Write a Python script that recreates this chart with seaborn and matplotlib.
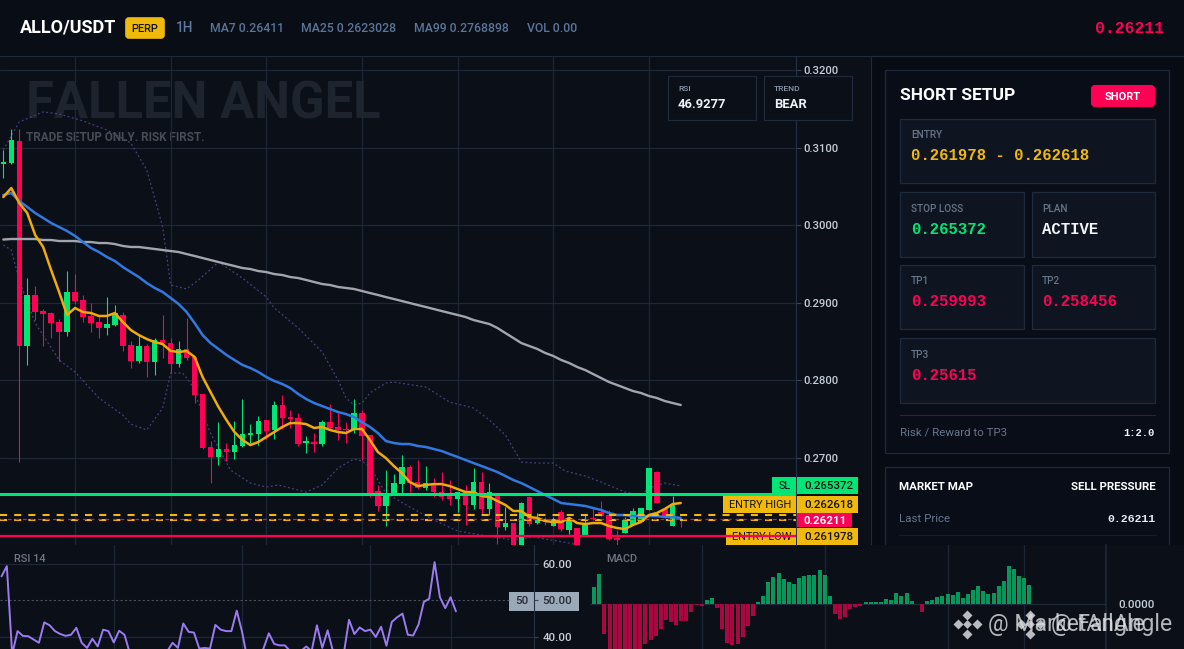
#!/usr/bin/env python3
import pandas as pd
import matplotlib
matplotlib.use("Agg")
import matplotlib.pyplot as plt
from matplotlib.patches import Rectangle, FancyBboxPatch
from matplotlib.transforms import blended_transform_factory
import seaborn as sns

# ---------------- DATA ----------------
opens = [.30788,.30801,.31085,.28443,.29101,.28894,.28868,.28752,.28623,.29139,
         .29036,.28830,.28752,.28675,.28713,.28843,.28456,.28250,.28443,.28237,
         .28520,.28481,.28211,.28405,.28302,.27825,.27142,.27013,.27116,.27077,
         .27155,.27296,.27309,.27489,.27361,.27683,.27528,.27515,.27193,.27206,
         .27180,.27463,.27400,.27374,.27374,.27579,.27296,.26574,.26382,.26536,
         .26664,.26884,.26690,.26613,.26664,.26561,.26510,.26472,.26561,.26395,
         .26690,.26343,.26536,.26111,.26162,.25840,.26497,.26162,.26214,.26124,
         .26304,.26072,.26098,.25995,.26227,.26304,.26265,.25969,.26033,.26137,
         .26175,.26330,.26819,.26343,.26124,.26214]
highs = [.30969,.31240,.31240,.29319,.29217,.28920,.28881,.28791,.29409,.29370,
         .29101,.28997,.28830,.29074,.28971,.28881,.28507,.28585,.28468,.28546,
         .28843,.28546,.28507,.28804,.28302,.27825,.27219,.27463,.27193,.27476,
         .27760,.27437,.27541,.27489,.27734,.27812,.27618,.27579,.27284,.27322,
         .27489,.27695,.27579,.27463,.27760,.27618,.27296,.26652,.26845,.26793,
         .27039,.26910,.26974,.26897,.26742,.26819,.26716,.26561,.26652,.26871,
         .26819,.26677,.26548,.26369,.26162,.26433,.26510,.26291,.26240,.26240,
         .26330,.26240,.26098,.26265,.26356,.26446,.26330,.26072,.26240,.26356,
         .26356,.26871,.26832,.26343,.26510,.26214]
lows = [.30608,.30788,.26948,.28199,.28778,.28443,.28546,.28250,.28572,.28984,
        .28752,.28623,.28546,.28585,.28701,.28379,.28160,.28224,.28044,.28070,
        .28289,.28095,.28173,.28263,.27708,.27116,.26677,.26910,.26961,.26987,
        .27142,.27193,.27167,.27245,.27245,.27374,.27387,.27155,.27064,.27077,
        .27155,.27361,.27232,.27193,.27322,.26974,.26497,.26317,.26124,.26523,
        .26548,.26561,.26600,.26587,.26497,.26459,.26395,.26304,.26137,.26343,
        .26265,.26265,.25891,.26072,.25840,.25840,.26124,.26149,.26137,.26124,
        .26059,.26020,.25840,.25995,.26201,.26252,.25943,.25879,.26033,.26137,
        .26175,.26330,.26420,.26227,.26124,.26111]
closes = [.30814,.31098,.28443,.29101,.28881,.28855,.28739,.28623,.29139,.29023,
          .28817,.28739,.28675,.28726,.28868,.28443,.28250,.28443,.28237,.28520,
          .28481,.28211,.28405,.28289,.27812,.27129,.27013,.27116,.27077,.27167,
          .27309,.27322,.27476,.27348,.27683,.27515,.27502,.27180,.27219,.27180,
          .27463,.27387,.27361,.27361,.27579,.27284,.26548,.26382,.26536,.26677,
          .26884,.26677,.26613,.26677,.26561,.26497,.26472,.26561,.26395,.26690,
          .26343,.26561,.26111,.26162,.25840,.26420,.26149,.26214,.26175,.26214,
          .26085,.26214,.25840,.26149,.26214,.26252,.25956,.25943,.26201,.26317,
          .26356,.26871,.26420,.26227,.26395,.26201]

ma7 = [.30363,.30479,.30286,.30157,.29874,.29719,.29422,.29139,.28843,.28933,
       .28881,.28868,.28830,.28830,.28868,.28752,.28649,.28585,.28533,.28494,
       .28468,.28379,.28366,.28379,.28302,.28044,.27850,.27657,.27489,.27335,
       .27232,.27167,.27206,.27271,.27335,.27400,.27450,.27450,.27437,.27387,
       .27400,.27361,.27335,.27322,.27374,.27374,.27232,.27077,.27000,.26897,
       .26806,.26690,.26639,.26652,.26664,.26664,.26639,.26600,.26561,.26561,
       .26510,.26497,.26446,.26395,.26317,.26317,.26240,.26227,.26188,.26175,
       .26175,.26227,.26162,.26149,.26162,.26162,.26124,.26098,.26085,.26137,
       .26175,.26265,.26291,.26343,.26407,.26420]
ma25 = [.30389,.30414,.30312,.30235,.30157,.30093,.30028,.29977,.29925,.29861,
        .29783,.29706,.29654,.29590,.29538,.29461,.29396,.29332,.29255,.29191,
        .29139,.29062,.28984,.28881,.28739,.28585,.28481,.28405,.28328,.28263,
        .28199,.28160,.28108,.28044,.27992,.27954,.27902,.27825,.27760,.27708,
        .27670,.27631,.27592,.27566,.27528,.27463,.27400,.27322,.27219,.27193,
        .27180,.27180,.27155,.27142,.27116,.27090,.27051,.27013,.26974,.26935,
        .26897,.26858,.26819,.26768,.26716,.26677,.26626,.26574,.26523,.26472,
        .26420,.26407,.26395,.26382,.26356,.26330,.26291,.26265,.26265,.26252,
        .26252,.26252,.26252,.26240,.26240,.26227]
ma99 = [.29815,.29822,.29822,.29822,.29822,.29809,.29809,.29796,.29796,.29796,
        .29783,.29783,.29770,.29770,.29757,.29732,.29719,.29719,.29706,.29693,
        .29680,.29667,.29654,.29628,.29603,.29577,.29551,.29525,.29499,.29474,
        .29448,.29435,.29409,.29396,.29370,.29358,.29332,.29319,.29294,.29268,
        .29242,.29229,.29204,.29191,.29178,.29152,.29126,.29101,.29074,.29049,
        .29023,.28997,.28971,.28946,.28920,.28894,.28868,.28843,.28817,.28778,
        .28752,.28726,.28675,.28610,.28546,.28481,.28443,.28405,.28353,.28315,
        .28263,.28224,.28173,.28134,.28082,.28031,.27979,.27941,.27902,.27863,
        .27838,.27799,.27773,.27734,.27708,.27683]

bb_up_idx = [0,2,5,7,10,13,16,18,20,21,22,23,24.5,27,30,33,34,37,40,42,43,44,45,46,48,49,
             53,56,59,61,63,65,67,69,70.5,73,75,78,80,81,83,85]
bb_up = [.30969,.31330,.31459,.31433,.31343,.31227,.31059,.30711,.29977,.29229,.29204,.29178,
         .29294,.29525,.29319,.29074,.28933,.28675,.28366,.28005,.27773,.27683,.27708,.27838,
         .27966,.27979,.27915,.27721,.27644,.27489,.27296,.26948,.26935,.26935,.26832,.26768,
         .26690,.26561,.26523,.26613,.26677,.26639]
bb_lo_idx = [0,1,2,4,7,9,12,15,16,18,20,21,22.5,23.5,24.7,26,28.5,31,33,34.5,38,40,42,44,45,46,
             48,51,54,57,60,64,66.5,71,75]
bb_lo = [.29745,.29680,.29294,.28739,.28263,.28108,.27773,.27553,.27437,.27361,.27644,.28095,
         .28095,.27966,.27657,.27322,.26845,.26677,.26626,.26652,.26561,.26652,.26871,.26987,
         .26961,.26884,.26548,.26369,.26201,.26059,.26007,.25943,.25982,.25904,.25814]

rsi = [56.6,59.4,35.2,41.6,40.3,40.2,39.3,38.4,44.0,43.2,41.6,40.8,40.3,40.6,42.5,38.4,37.0,39.5,
       37.4,42.0,41.6,38.5,41.7,40.6,35.6,32.4,31.5,29.7,30.6,33.3,34.7,36.1,38.4,37.0,43.7,41.4,
       41.2,36.8,37.0,36.8,43.3,42.0,41.6,41.6,47.2,41.4,33.8,32.4,34.7,36.8,41.0,38.1,37.7,37.7,
       36.1,34.2,36.1,37.4,36.1,43.2,37.0,41.8,36.1,30.6,35.2,44.7,40.8,42.6,41.6,42.0,40.0,42.8,
       37.6,44.1,45.4,46.4,40.6,40.4,43.4,49.6,50.5,60.5,50.9,47.9,50.9,47.0]

# MACD histogram, in units of 1e-5
macd_hist = [52,91,-89,-150,-170,-170,-170,-170,-170,-145,-119,-107,-94,-74,-47,-53,-61,-50,-50,-23,
             -1,-4,13,19,-11,-74,-116,-122,-119,-97,-65,-35,8,26,67,82,94,77,67,61,79,85,88,88,103,88,
             25,-29,-44,-38,-14,-8,-4,7,7,7,7,16,13,34,25,34,10,1,-23,10,13,22,25,31,28,37,19,31,43,55,
             40,31,34,55,70,115,106,85,79,58]

price_ticks = [0.32, 0.31, 0.30, 0.29, 0.28, 0.27]
price_labels = ["0.3200", "0.3100", "0.3000", "0.2900", "0.2800", "0.2700"]
rsi_ticks = [60, 50, 40]
rsi_labels = ["60.00", "50.00", "40.00"]
price_grid_idx = [9, 21, 33, 45, 57, 69, 81]
lower_grid_idx = [21, 45, 69, 84]

stop_loss = 0.265372
entry_high = 0.262618
entry_low = 0.261978
last_price = 0.26211
tp1 = 0.259993

# ---------------- STYLE ----------------
W, H = 1184, 649
BG = "#0a0f18"
PANEL = "#070b14"
CARD = "#0f1520"
BORDER = "#1f2a3d"
GRID = "#1e2735"
GREEN = "#00e676"
RED = "#ff0055"
AMBER = "#f0b90b"
MONO = "Liberation Mono"

sns.set_theme(style="dark", rc={"axes.facecolor": BG, "figure.facecolor": BG, "axes.edgecolor": BORDER})
plt.rcParams["font.family"] = ["Roboto", "DejaVu Sans"]


def px_rect(x0, y0, x1, y1):
    """figure fraction rect from top-left pixel box"""
    return [x0 / W, 1 - y1 / H, (x1 - x0) / W, (y1 - y0) / H]


def fpx(size):
    return size * 0.72


fig = plt.figure(figsize=(W / 100, H / 100), dpi=100)

# background layer, pixel coords
ui = fig.add_axes([0, 0, 1, 1], zorder=0)
ui.set_xlim(0, W)
ui.set_ylim(H, 0)
ui.axis("off")

# top layer for boxes that sit over the chart
top = fig.add_axes([0, 0, 1, 1], zorder=10)
top.set_xlim(0, W)
top.set_ylim(H, 0)
top.axis("off")
top.patch.set_alpha(0)


def card(a, x0, y0, x1, y1, fc=CARD, ec=BORDER, z=2):
    a.add_patch(Rectangle((x0, y0), x1 - x0, y1 - y0, fc=fc, ec=ec, lw=0.9, zorder=z))


def label(a, x, y, s, size=11, color="white", weight="normal", ha="left", family=None, z=6):
    kw = {"family": family} if family else {}
    a.text(x, y, s, fontsize=fpx(size), color=color, fontweight=weight, ha=ha, va="center", zorder=z, **kw)


# ---------------- HEADER ----------------
ui.add_patch(Rectangle((0, 0), W, 55.5, fc="#090d16", ec="none", zorder=1))
ui.plot([0, W], [55.5, 55.5], color=BORDER, lw=0.8, zorder=2)
label(ui, 20, 27.5, "ALLO/USDT", 18, "white", "bold")
ui.add_patch(FancyBboxPatch((126, 18), 38, 20, boxstyle="round,pad=0,rounding_size=3", fc=AMBER, ec=AMBER, lw=1.2, zorder=3))
label(ui, 145, 28.5, "PERP", 11, "#111111", "medium", ha="center")
label(ui, 176, 28, "1H", 13.5, "#5f7a9c", "medium")
label(ui, 210, 28.5, "MA7 0.26411", 12.2, "#5a7599", "medium")
label(ui, 301, 28.5, "MA25 0.2623028", 12.2, "#5a7599", "medium")
label(ui, 414, 28.5, "MA99 0.2768898", 12.2, "#5a7599", "medium")
label(ui, 527, 28.5, "VOL 0.00", 12.2, "#5a7599", "medium")
label(ui, 1164, 28.5, "0.26211", 16.5, RED, "bold", ha="right", family=MONO)

# ---------------- WATERMARK ----------------
label(ui, 26, 104.5, "FALLEN ANGEL", 50.7, "#1e242e", "bold", z=1)
label(ui, 26, 137.5, "TRADE SETUP ONLY. RISK FIRST.", 11.8, "#474c56", "bold", z=1)

# ---------------- RIGHT PANEL ----------------
ui.add_patch(Rectangle((870.5, 56), W - 870, 500, fc=PANEL, ec=BORDER, lw=0.8, zorder=1))
card(ui, 885, 70, 1169, 453, fc="#080d18")
label(ui, 900, 96, "SHORT SETUP", 17.4, "white", "bold")
ui.add_patch(FancyBboxPatch((1092, 86), 62, 20, boxstyle="round,pad=0,rounding_size=3", fc=RED, ec=RED, lw=1.5, zorder=3))
label(ui, 1122.5, 96.5, "SHORT", 11, "white", "bold", ha="center")

card(ui, 900, 119, 1155, 183)
label(ui, 911, 135.5, "ENTRY", 10, "#67758a", "medium")
label(ui, 911, 156, "0.261978 - 0.262618", 15.6, AMBER, "bold", family=MONO)

card(ui, 900, 192, 1024, 257)
label(ui, 911, 208.5, "STOP LOSS", 10, "#67758a", "medium")
label(ui, 911, 229, "0.265372", 15.6, GREEN, "bold", family=MONO)
card(ui, 1032, 192, 1155, 257)
label(ui, 1042, 208.5, "PLAN", 10, "#67758a", "medium")
label(ui, 1042, 229, "ACTIVE", 15.6, "#f2f5f9", "bold", family=MONO)

card(ui, 900, 265, 1024, 329)
label(ui, 911, 281.5, "TP1", 10, "#67758a", "medium")
label(ui, 911, 302, "0.259993", 15.6, RED, "bold", family=MONO)
card(ui, 1032, 265, 1155, 329)
label(ui, 1042, 281.5, "TP2", 10, "#67758a", "medium")
label(ui, 1042, 302, "0.258456", 15.6, RED, "bold", family=MONO)

card(ui, 900, 338, 1155, 403)
label(ui, 911, 354.5, "TP3", 10, "#67758a", "medium")
label(ui, 911, 375, "0.25615", 15.6, RED, "bold", family=MONO)

ui.plot([900, 1155], [414.5, 414.5], color=BORDER, lw=0.8, zorder=3)
label(ui, 900, 432, "Risk / Reward to TP3", 11.5, "#67758a")
label(ui, 1155, 432.5, "1:2.0", 10.5, "#eef2f6", "bold", ha="right", family=MONO)

card(ui, 885, 467, 1169, 600, fc="#080d18")
label(ui, 899, 486.5, "MARKET MAP", 11.5, "white", "bold")
label(ui, 1156, 486.5, "SELL PRESSURE", 11.5, "white", "bold", ha="right")
label(ui, 899, 519, "Last Price", 11.5, "#67758a")
label(ui, 1156, 519.5, "0.26211", 11.5, "#e6ebf2", "bold", ha="right", family=MONO)
ui.plot([899, 1156], [534.5, 534.5], color="#161e2c", lw=0.8, zorder=3)

# band behind the two lower panes
ui.add_patch(Rectangle((0, 544.5), W, H - 544.5, fc=BG, ec="none", zorder=5))

# ---------------- PRICE PANE ----------------
ax = fig.add_axes(px_rect(0, 56, 796, 545), zorder=1)
ax.patch.set_visible(False)
candles = pd.DataFrame({"open": opens, "high": highs, "low": lows, "close": closes})
candles["idx"] = candles.index
candles["color"] = [GREEN if c >= o else RED for o, c in zip(opens, closes)]

ax.vlines(candles["idx"], candles["low"], candles["high"], colors=candles["color"], lw=0.8, zorder=3)
ax.bar(candles["idx"], (candles["close"] - candles["open"]).abs(),
       bottom=candles[["open", "close"]].min(axis=1), width=0.68, color=candles["color"], lw=0, zorder=3)

sns.lineplot(x=bb_up_idx, y=bb_up, ax=ax, color="#4a4080", lw=0.9, linestyle=(0, (1.5, 2)), zorder=2)
sns.lineplot(x=bb_lo_idx, y=bb_lo, ax=ax, color="#4a4080", lw=0.9, linestyle=(0, (1.5, 2)), zorder=2)
sns.lineplot(x=candles["idx"], y=ma99, ax=ax, color="#a3a5ad", lw=1.7, zorder=4)
sns.lineplot(x=candles["idx"], y=ma25, ax=ax, color="#3079e0", lw=1.8, zorder=5)
sns.lineplot(x=candles["idx"], y=ma7, ax=ax, color="#f0aa0a", lw=1.8, zorder=6)

ax.axhline(stop_loss, color=GREEN, lw=2.2, zorder=7)
ax.axhline(entry_high, color=AMBER, lw=1.5, linestyle=(0, (3.4, 3.4)), zorder=7)
ax.axhline(entry_low, color=AMBER, lw=1.5, linestyle=(0, (3.4, 3.4)), zorder=7)
ax.axhline(last_price, color=RED, lw=0.9, linestyle=(0, (3, 3)), zorder=8)

# axis tags, placed in screen pixels, under the TP line
tags = [
    (772, 477, 796, 494, GREEN, "SL", "#0a0f18"),
    (723, 496, 796, 513, AMBER, "ENTRY HIGH", "#17130a"),
    (726, 528, 796, 544.5, AMBER, "ENTRY LOW", "#17130a"),
]
values = [
    (477, 494, GREEN, "0.265372", 858),
    (496, 513, AMBER, "0.262618", 858),
    (528, 544.5, AMBER, "0.261978", 858),
    (513, 527, RED, "0.26211", 852),
]
for x0, y0, x1, y1, c, s, tc in tags:
    ax.add_patch(Rectangle((x0, y0), x1 - x0, y1 - y0, fc=c, ec="none", transform=ui.transData, clip_on=False, zorder=9))
    ax.text(x1 - 5, (y0 + y1) / 2 + 0.5, s, fontsize=fpx(11), color=tc, ha="right", va="center",
            transform=ui.transData, clip_on=False, zorder=10)
for y0, y1, c, s, x1 in values:
    ax.add_patch(Rectangle((796.5, y0), x1 - 796.5, y1 - y0, fc=c, ec="none", transform=ui.transData, clip_on=False, zorder=9))
    ax.text(804, (y0 + y1) / 2 + 0.5, s, fontsize=fpx(11.5), color="white" if c == RED else "#17130a",
            fontweight="bold" if c == RED else "medium", ha="left", va="center",
            transform=ui.transData, clip_on=False, zorder=10)
ax.plot([0, 1], [tp1, tp1], color=RED, lw=1.6, transform=blended_transform_factory(ax.transAxes, ax.transData), zorder=11)

ax.set_xlim(-0.414, 99.46)
ax.set_ylim(0.25879, 0.3218)
ax.set_xticks(price_grid_idx)
ax.set_xticklabels([])
ax.yaxis.tick_right()
ax.set_yticks(price_ticks)
ax.set_yticklabels(price_labels, fontsize=fpx(11.2), color="#c6ced8", fontweight="medium")
ax.tick_params(axis="y", length=3.5, width=0.8, color="#39455a", pad=2, right=True)
ax.tick_params(axis="x", length=0)
ax.grid(True, color=GRID, lw=0.9, zorder=0)
ax.set_axisbelow(True)
for side in ["top", "left", "bottom"]:
    ax.spines[side].set_visible(False)
ax.spines["right"].set_color("#273247")
ax.spines["right"].set_linewidth(0.8)
ax.set_xlabel("")
ax.set_ylabel("")

# stat boxes over the chart
card(top, 668, 76, 756, 120, fc=BG)
label(top, 678, 89, "RSI", 8.5, "#8b95a5", "medium")
label(top, 678, 104.5, "46.9277", 13, "#eef2f6", "bold")
card(top, 764, 76, 852, 120, fc=BG)
label(top, 774, 89, "TREND", 8.5, "#8b95a5", "medium")
label(top, 774, 104.5, "BEAR", 13, "#eef2f6", "bold")

# ---------------- RSI PANE ----------------
ax_rsi = fig.add_axes(px_rect(0, 545, 534, 649), zorder=2)
ax_rsi.patch.set_visible(False)
sns.lineplot(x=candles["idx"], y=rsi, ax=ax_rsi, color="#9b7bf0", lw=1.4, zorder=4)
ax_rsi.hlines([rsi_ticks[0], rsi_ticks[2]], -1, 100, color=GRID, lw=0.9, zorder=1)
# dashed 50 level stops at the grey tag
ax_rsi.axhline(rsi_ticks[1], xmax=509 / 534, color="#4a5260", lw=0.8, linestyle=(0, (2, 2)), zorder=1)
ax_rsi.set_xlim(-0.28, 99.6)
ax_rsi.set_ylim(36.7, 65.2)
ax_rsi.set_xticks(lower_grid_idx)
ax_rsi.set_xticklabels([])
ax_rsi.tick_params(axis="x", length=0)
ax_rsi.grid(True, axis="x", color=GRID, lw=0.9)
ax_rsi.set_axisbelow(True)
ax_rsi.yaxis.tick_right()
ax_rsi.set_yticks(rsi_ticks)
ax_rsi.set_yticklabels(rsi_labels, fontsize=fpx(11.5), fontweight="medium", color="#c6ced8")
ax_rsi.get_yticklabels()[1].set_color("#252c38")
ax_rsi.tick_params(axis="y", length=3, width=0.8, color="#39455a", pad=3, right=True)
for side in ["top", "left", "bottom"]:
    ax_rsi.spines[side].set_visible(False)
ax_rsi.spines["right"].set_color("#273247")
ax_rsi.spines["right"].set_linewidth(0.8)
ax_rsi.set_xlabel("")
ax_rsi.set_ylabel("")
ui.add_patch(Rectangle((509, 592), 70, 19, fc="#9aa8b8", ec="none", zorder=6))
label(ui, 522, 601.5, "50", 11.5, "#252c38", "medium", ha="center", z=7)
label(top, 14, 559, "RSI 14", 11, "#6f7782", "medium")

# ---------------- MACD PANE ----------------
ax_macd = fig.add_axes(px_rect(590, 545, 1106, 649), zorder=2)
ax_macd.patch.set_visible(False)
macd = pd.DataFrame({"idx": range(len(macd_hist)), "hist": macd_hist})
macd["dir"] = ["up" if v >= 0 else "down" for v in macd_hist]
sns.barplot(data=macd, x="idx", y="hist", hue="dir", palette={"up": "#08965a", "down": "#a8083f"}, native_scale=True,
            dodge=False, width=0.78, saturation=1, legend=False, linewidth=0, ax=ax_macd, zorder=3)
ax_macd.axhline(0, color=BORDER, lw=0.9, zorder=1)
ax_macd.set_xlim(-0.82, 99.95)
ax_macd.set_ylim(-134, 178)
ax_macd.set_xticks(lower_grid_idx)
ax_macd.set_xticklabels([])
ax_macd.tick_params(axis="x", length=0)
ax_macd.grid(True, axis="x", color=GRID, lw=0.9)
ax_macd.set_axisbelow(True)
ax_macd.yaxis.tick_right()
ax_macd.set_yticks([0])
ax_macd.set_yticklabels(["0.0000"], fontsize=fpx(11.5), fontweight="medium", color="#c6ced8")
ax_macd.tick_params(axis="y", length=0, pad=9, right=False)
for side in ["top", "left", "bottom"]:
    ax_macd.spines[side].set_visible(False)
ax_macd.spines["right"].set_color(GRID)
ax_macd.set_xlabel("")
ax_macd.set_ylabel("")
label(top, 606, 559, "MACD", 11, "#6f7782", "medium")

# ---------------- SITE WATERMARK ----------------
for cx, name, tx in [(967, "@ MarketAngle", 988), (1030, "@ FallAngle", 1051)]:
    for dx, dy in [(0, -9.5), (-9.5, 0), (9.5, 0), (0, 9.5)]:
        top.scatter(cx + dx, 624 + dy, marker="D", s=26, color="#d8dadd", alpha=0.85, lw=0, zorder=8)
    top.scatter(cx, 624, marker="D", s=20, color="#d8dadd", alpha=0.85, lw=0, zorder=8)
    top.text(tx, 624, name, fontsize=fpx(23), color="#e4e6e9", alpha=0.78, va="center", ha="left", zorder=8)

fig.savefig("out.png", dpi=100)
